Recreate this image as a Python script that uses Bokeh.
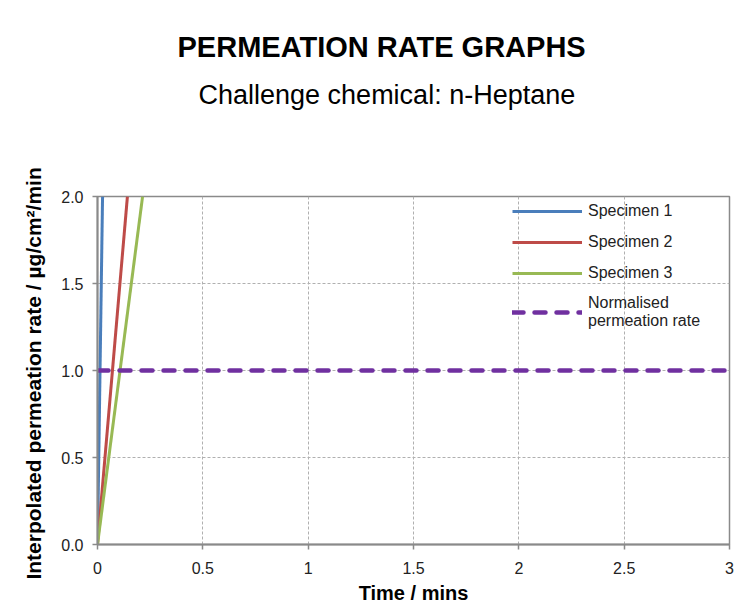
from bokeh.plotting import figure
from bokeh.models import Legend, LegendItem, Range1d, FixedTicker, CustomJSTickFormatter, Title
from bokeh.embed import file_html
from bokeh.resources import INLINE

# ---- data ----
spec1_time = [0.0, 0.024]
spec1_rate = [0.0, 2.0]
spec2_time = [0.0, 0.142]
spec2_rate = [0.0, 2.0]
spec3_time = [0.0, 0.214]
spec3_rate = [0.0, 2.0]
norm_time = [0.0, 3.0]
norm_rate = [1.0, 1.0]
x_ticks = [0, 0.5, 1, 1.5, 2, 2.5, 3]
y_ticks = [0.0, 0.5, 1.0, 1.5, 2.0]
title_text = "PERMEATION RATE GRAPHS"
subtitle_text = "Challenge chemical: n-Heptane"

FONT = "Liberation Sans"
AXIS_COL = "#8a8a8a"

p = figure(width=752, height=608, output_backend="svg", toolbar_location=None,
           x_range=Range1d(0, 3), y_range=Range1d(0, 2),
           min_border_left=97, min_border_right=23, min_border_top=196, min_border_bottom=64)
p.title.text = ""
p.title.visible = False
p.background_fill_color = "white"
p.border_fill_color = "white"
p.outline_line_color = AXIS_COL
p.outline_line_width = 1.5

# grids
for g in (p.xgrid, p.ygrid):
    g.grid_line_color = "#b0b0b0"
    g.grid_line_dash = "3 2"
    g.grid_line_width = 1
p.xgrid.ticker = FixedTicker(ticks=x_ticks)
p.ygrid.ticker = FixedTicker(ticks=y_ticks)

# axes
xa = p.xaxis[0]
ya = p.yaxis[0]
xa.ticker = FixedTicker(ticks=x_ticks)
ya.ticker = FixedTicker(ticks=y_ticks)
ya.formatter = CustomJSTickFormatter(code="return tick.toFixed(1);")
xa.formatter = CustomJSTickFormatter(code="return String(tick);")
for a in (xa, ya):
    a.axis_line_color = AXIS_COL
    a.axis_line_width = 2
    a.major_tick_line_color = AXIS_COL
    a.major_tick_line_width = 1.5
    a.major_tick_in = 0
    a.major_tick_out = 5
    a.minor_tick_line_color = None
    a.major_label_text_font = FONT
    a.major_label_text_font_size = "16px"
    a.major_label_text_color = "#222222"
    a.axis_label_text_font = FONT
    a.axis_label_text_font_style = "bold"
    a.axis_label_text_color = "black"
xa.major_label_standoff = 12
ya.major_label_standoff = 9
xa.axis_label = "Time / mins"
xa.axis_label_text_font_size = "20px"
xa.axis_label_standoff = 5
ya.axis_label = "Interpolated permeation rate  / µg/cm²/min"
ya.axis_label_text_font_size = "21px"
ya.axis_label_standoff = 13

# lines
r1 = p.line(spec1_time, spec1_rate, line_color="#4A7EBB", line_width=3)
r2 = p.line(spec2_time, spec2_rate, line_color="#BE4B48", line_width=3)
r3 = p.line(spec3_time, spec3_rate, line_color="#98B954", line_width=3)
r4 = p.line(norm_time, norm_rate, line_color="#7030A0", line_width=4.5,
            line_dash="11 11", line_cap="round")

legend = Legend(items=[
    LegendItem(label="Specimen 1", renderers=[r1]),
    LegendItem(label="Specimen 2", renderers=[r2]),
    LegendItem(label="Specimen 3", renderers=[r3]),
    LegendItem(label="Normalised\npermeation rate", renderers=[r4]),
], location="top_right")
legend.glyph_width = 70
legend.glyph_height = 20
legend.label_height = 20
legend.label_width = 136
legend.label_standoff = 6
legend.spacing = 11
legend.padding = 5
legend.margin = 5
legend.border_line_color = None
legend.background_fill_alpha = 0
legend.label_text_font = FONT
legend.label_text_font_size = "16px"
legend.label_text_color = "#222222"
legend.label_text_line_height = 1.2
p.add_layout(legend)

# titles: spacer (closest to frame), subtitle, main title
p.add_layout(Title(text=" ", text_font_size="63px", align="center"), "above")
p.add_layout(Title(text=subtitle_text, text_font=FONT, text_font_size="27px",
                   text_font_style="normal", text_color="black", align="left",
                   offset=101), "above")
p.add_layout(Title(text=title_text, text_font=FONT, text_font_size="29px",
                   text_font_style="bold", text_color="black", align="left",
                   offset=80, standoff=20), "above")

open("out.html", "w").write(file_html(p, INLINE))
